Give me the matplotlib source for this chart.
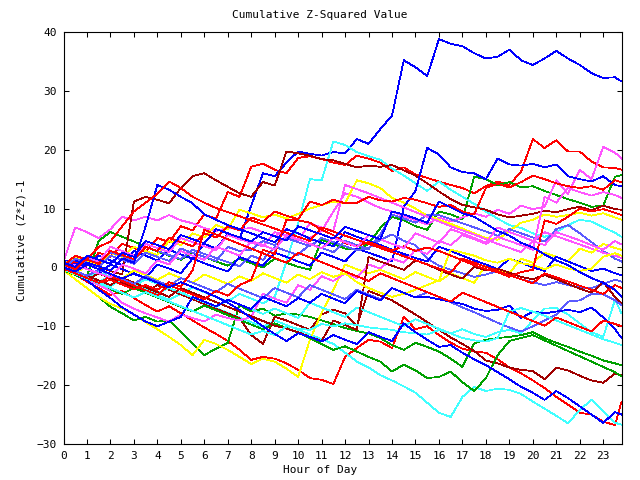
import matplotlib
matplotlib.use("Agg")
import matplotlib.pyplot as plt

# sample times (hour of day), half-hour steps, last sample just before midnight
hours = [0.0, 0.5, 1.0, 1.5, 2.0, 2.5, 3.0, 3.5, 4.0, 4.5, 5.0, 5.5, 6.0, 6.5,
         7.0, 7.5, 8.0, 8.5, 9.0, 9.5, 10.0, 10.5, 11.0, 11.5, 12.0, 12.5,
         13.0, 13.5, 14.0, 14.5, 15.0, 15.5, 16.0, 16.5, 17.0, 17.5, 18.0,
         18.5, 19.0, 19.5, 20.0, 20.5, 21.0, 21.5, 22.0, 22.5, 23.0, 23.5, 23.78]

# cumulative (z*z)-1, one list per station
blue_top = [1.0, 1.2, 0.5, 2.0, 1.2, 0.4, 2.8, 2.0, 1.2, 3.0, 2.2, 1.5, 4.0, 3.2, 5.6, 4.8,
            10.5, 16.0, 15.5, 17.8, 19.7, 19.3, 19.0, 19.6, 19.4, 21.8, 21.0, 23.5, 25.8,
            35.2, 34.0, 32.5, 38.8, 38.0, 37.6, 36.4, 35.5, 35.8, 37.0, 35.2, 34.4, 35.5,
            36.8, 35.5, 34.4, 33.0, 32.2, 32.3, 31.6]
blue_early = [0, -0.5, 0.8, 0.2, -0.5, 1.5, 0.8, 7.0, 14.0, 13.2, 12.0, 10.9, 9.0, 8.1,
              7.2, 6.5, 5.8, 5.0, 4.3, 6.5, 5.8, 4.9, 4.2, 3.6, 6.0, 5.2, 4.5, 3.8, 3.0,
              2.3, 1.6, 1.0, 3.5, 2.8, 2.0, 1.2, 0.5, -0.3, 1.5, 0.8, 0.0, -0.6, 1.8, 1.0,
              0.2, -0.6, -0.2, -1.0, -1.3]
blue_jump = [0, 0.6, -0.2, -1.0, 0.5, -0.3, -1.1, -1.8, 0.5, -0.2, -1.0, 1.5, 0.7, 0.0,
             -0.7, 1.8, 1.0, 0.3, 2.5, 1.8, 1.0, 0.3, 2.5, 1.8, 1.0, 3.2, 2.5, 1.8, 1.0,
             10.3, 13.0, 20.3, 19.2, 17.0, 16.2, 16.0, 15.0, 18.5, 17.5, 17.3, 17.6, 17.0,
             17.5, 15.5, 15.0, 14.6, 15.5, 14.0, 13.8]
blue_dip = [0.0, -1.0, -2.2, -3.8, -5.2, -6.8, -8.0, -9.2, -10.0, -9.2, -8.4, -5.0, -5.8,
            -6.6, -5.5, -6.3, -7.1, -5.0, -5.8, -6.6, -5.2, -6.0, -4.5, -5.3, -6.1, -4.0,
            -4.8, -5.6, -3.5, -4.3, -5.1, -5.0, -5.4, -5.8, -6.2, -7.0, -7.4, -7.2, -6.5,
            -8.6, -7.5, -7.8, -7.5, -7.2, -7.6, -6.8, -8.5, -10.5, -12.0]
blue_mid = [0.8, 0.1, 2.0, 1.3, 0.6, 2.5, 1.8, 4.5, 3.8, 3.1, 5.5, 4.8, 4.1, 6.5, 5.8, 5.1,
            4.4, 6.0, 5.3, 4.6, 7.0, 6.3, 5.6, 4.9, 6.9, 6.2, 5.5, 4.8, 9.5, 9.0, 8.3, 7.6,
            11.2, 10.2, 9.2, 8.6, 7.4, 6.2, 5.4, 4.2, 3.4, 2.2, 1.2, 0.4, -0.8, -1.8, -2.6,
            -3.8, -5.0]
blue_low = [0, -0.7, 0.5, -0.3, -1.1, -1.9, -1.0, -1.8, -2.6, -3.4, -2.5, -3.3, -4.1, -5.0,
            -6.0, -7.2, -8.6, -10.0, -11.3, -12.5, -11.2, -11.8, -12.6, -11.5, -12.3, -13.0,
            -11.0, -11.8, -12.5, -9.5, -11.0, -12.3, -13.5, -13.2, -14.5, -15.6, -16.6,
            -17.8, -19.0, -20.3, -21.3, -22.5, -21.0, -22.2, -23.6, -25.0, -26.4, -24.6, -25.0]

red_peak = [0, 1.0, 0.3, 2.5, 1.8, 4.0, 3.3, 2.6, 5.0, 4.3, 7.0, 6.3, 9.0, 8.3, 12.8, 12.0,
            17.1, 17.6, 16.6, 16.0, 18.6, 18.9, 18.4, 17.8, 17.4, 19.0, 18.5, 17.8, 16.4,
            17.0, 15.8, 15.2, 14.6, 14.0, 13.5, 12.6, 13.8, 14.6, 14.0, 16.3, 21.8, 20.3,
            21.6, 19.7, 19.7, 18.0, 17.0, 16.9, 16.6]
red_low = [0, -1.2, -2.4, -3.5, -4.7, -4.0, -5.2, -6.4, -7.5, -6.6, -7.8, -9.0, -10.2, -11.3,
           -12.5, -14.0, -15.7, -15.2, -15.5, -16.3, -17.4, -18.8, -19.1, -19.8, -15.2, -13.7,
           -12.3, -12.6, -13.7, -8.4, -10.5, -10.0, -11.5, -12.8, -13.8, -14.3, -14.5, -15.6,
           -17.0, -18.0, -19.2, -20.5, -22.0, -23.3, -24.7, -25.0, -26.2, -26.8, -22.8]
red_upper = [0.3, 2.0, 1.3, 0.6, 2.8, 2.1, 1.4, 3.5, 2.8, 5.0, 4.3, 3.6, 5.8, 5.1, 7.0, 6.3,
             8.5, 7.8, 9.5, 8.8, 8.2, 11.2, 10.6, 11.5, 10.9, 11.0, 12.0, 11.4, 11.2, 11.8,
             11.5, 10.9, 10.3, 10.6, 9.5, 9.0, 13.5, 14.2, 13.6, 14.5, 15.6, 15.0, 14.3,
             13.8, 13.5, 13.8, 13.2, 14.8, 14.5]
red_mid = [-0.3, -1.1, -1.9, -2.7, -1.5, -2.3, -3.1, -3.9, -4.7, -3.0, -3.8, -4.6, -5.4,
           -4.0, -4.8, -3.0, -2.1, 3.0, 2.3, 8.1, 8.0, 7.6, 6.4, 5.5, 4.1, 3.6, 4.3, 3.6,
           2.9, 3.6, 2.8, 3.4, 2.8, 2.0, 1.2, 0.4, -0.3, -0.8, -1.6, -0.8, -0.4, 8.0, 7.4,
           8.6, 10.0, 9.5, 9.9, 9.3, 8.9]
red_hump = [0.5, -0.3, 1.5, 3.5, 4.4, 7.0, 9.5, 11.0, 12.5, 14.6, 13.5, 12.0, 11.0, 10.1,
            9.4, 8.7, 8.0, 7.3, 6.6, 5.9, 5.2, 4.5, 6.8, 6.1, 5.4, 4.7, 4.0, 3.3, 2.6, 1.9,
            1.2, 0.5, -0.2, -0.9, 1.5, 0.8, 0.1, -0.6, -1.3, -2.0, -2.7, -1.0, -1.7, -2.4,
            -3.1, -3.8, -4.5, -3.0, -3.5]
red_drift = [-0.2, -1.0, -1.8, -2.6, -2.1, -2.9, -3.7, -3.0, -3.8, -2.5, -3.3, -0.5, 6.4,
             5.6, 4.8, 4.0, 3.2, 2.4, 1.6, 0.8, 2.5, 1.7, 0.9, 0.1, -0.7, -1.5, -2.3, -1.0,
             -1.8, -2.6, -3.4, -4.2, -5.0, -5.8, -4.3, -5.1, -5.9, -6.7, -7.5, -8.3, -9.1,
             -9.9, -8.5, -9.3, -10.1, -10.9, -9.0, -9.6, -10.0]

dred_high = [0, -0.4, 0.8, 0.1, -0.6, -1.2, 11.2, 12.0, 11.5, 10.9, 13.5, 15.5, 16.0, 14.8,
             13.7, 12.6, 12.0, 14.5, 13.9, 19.7, 19.4, 19.0, 18.4, 18.2, 17.6, 17.0, 17.3,
             17.1, 17.4, 16.5, 15.6, 14.3, 12.9, 11.6, 10.6, 10.2, 9.8, 9.0, 8.5, 8.8, 9.1,
             9.6, 9.4, 9.9, 10.3, 9.7, 10.5, 9.9, 9.8]
dred_low = [-0.5, -1.3, -2.1, -1.0, -1.8, -2.6, -3.4, -4.2, -3.0, -3.8, -4.6, -5.4, -6.2,
            -7.0, -7.8, -8.6, -11.5, -13.0, -8.4, -9.0, -9.8, -10.6, -8.0, -7.2, -7.8, -10.0,
            -4.0, -4.8, -5.6, -6.8, -8.0, -9.3, -10.6, -11.9, -13.0, -14.2, -15.8, -16.3,
            -17.0, -17.4, -17.6, -19.0, -17.0, -17.5, -18.4, -19.2, -19.6, -18.0, -18.3]
dred_mid = [0.2, -0.6, -1.4, -2.2, -3.0, -1.8, -2.6, -3.4, -4.2, -5.0, -3.5, -4.3, -5.1,
            -5.9, -6.7, -7.5, -8.3, -9.1, -9.9, -10.4, -11.0, -11.8, -12.5, -9.0, -9.8,
            -10.6, 1.8, 1.0, 0.3, -0.4, 1.2, 0.5, -0.4, -1.2, -1.9, 0.1, -0.5, -0.2, -0.9,
            -1.6, -2.0, -1.3, -2.0, -2.8, -3.6, -4.3, -2.5, -5.0, -6.1]

green_low = [-0.5, -2.0, -3.5, -5.0, -6.7, -7.8, -9.0, -8.4, -9.2, -9.0, -11.0, -13.0,
             -14.9, -13.8, -12.8, -6.4, -7.5, -7.0, -8.2, -7.8, -8.0, -8.4, -9.0, -9.6,
             -10.3, -10.8, -11.2, -12.0, -13.2, -14.0, -12.8, -13.5, -14.3, -15.5, -16.9,
             -12.9, -12.3, -12.0, -11.8, -11.5, -11.0, -12.0, -12.8, -13.5, -14.3, -15.0,
             -15.8, -16.3, -16.6]
green_up = [0.0, -0.8, -1.5, 4.5, 6.0, 5.2, 4.4, 3.5, 2.7, 2.0, 1.3, 2.5, 1.8, 1.0, 0.3,
            1.5, 0.7, 0.0, 1.5, 0.8, 0.1, -0.4, 4.7, 4.0, 3.2, 3.0, 4.0, 6.7, 8.6, 8.0, 7.0,
            6.4, 9.5, 9.0, 8.2, 15.4, 15.0, 14.0, 14.5, 13.6, 13.8, 13.0, 12.3, 11.6, 11.0,
            10.3, 10.5, 15.4, 15.7]
green_down = [-0.5, -1.3, -2.1, -2.9, -3.7, -4.5, -3.5, -4.3, -5.1, -5.9, -6.7, -7.5, -6.5,
              -7.3, -8.1, -8.9, -9.7, -10.5, -9.5, -10.3, -11.1, -12.0, -13.0, -14.0, -13.4,
              -14.3, -15.2, -16.0, -17.7, -16.5, -17.5, -18.8, -18.6, -17.7, -19.5, -21.0,
              -18.8, -14.9, -12.5, -12.0, -11.5, -12.4, -13.3, -14.2, -15.1, -16.0, -16.9,
              -17.8, -18.5]

cyan_top = [-0.2, -1.0, -1.8, -0.8, -1.6, -2.4, -3.2, -2.0, -2.8, -3.6, -4.4, -3.4, -4.2,
            -5.0, -5.8, -4.5, -5.3, -6.1, -5.0, 1.0, 7.5, 15.0, 14.8, 21.4, 20.8, 19.6, 18.9,
            18.3, 16.8, 15.6, 14.3, 13.0, 14.6, 13.2, 12.0, 10.8, 9.5, 8.3, 7.2, 6.7, 5.8,
            5.2, 6.0, 7.2, 8.1, 7.8, 6.8, 5.9, 5.2]
cyan_low = [0, -0.8, -1.6, -2.4, -1.5, -2.3, -3.1, -3.9, -4.7, -5.5, -4.5, -5.3, -6.1, -6.9,
            -7.7, -8.5, -9.3, -10.1, -9.0, -9.8, -10.6, -11.4, -12.2, -13.0, -14.5, -16.0,
            -17.0, -18.3, -19.2, -20.2, -21.3, -23.0, -24.7, -25.4, -22.0, -20.3, -21.0,
            -20.6, -20.8, -21.5, -22.8, -24.0, -25.2, -26.5, -24.2, -22.5, -24.5, -26.4, -26.7]
cyan_mid = [0.0, -0.8, -1.6, -2.4, -3.2, -2.0, -2.8, -3.6, -4.4, -3.5, -4.3, -5.1, -5.9,
            -6.7, -5.5, -6.3, -7.1, -7.9, -7.0, -7.8, -8.6, -6.0, -6.8, -7.6, -8.4, -6.8,
            -7.6, -8.4, -9.2, -10.0, -8.8, -9.6, -10.4, -11.2, -10.5, -11.3, -11.8, -11.0,
            -10.6, -11.2, -9.0, -7.0, -6.9, -8.0, -9.5, -11.0, -11.8, -5.5, -7.8]
cyan_flat = [-0.3, -1.1, -1.9, -2.7, -3.5, -4.3, -5.1, -4.2, -5.0, -5.8, -6.6, -7.4, -8.2,
             -9.0, -9.8, -10.6, -11.4, -10.8, -11.5, -10.0, -10.4, -10.6, -9.6, -10.0, -9.5,
             -9.8, -10.2, -10.4, -10.6, -11.0, -11.2, -11.4, -10.6, -11.2, -12.0, -12.4,
             -12.6, -12.0, -7.5, -6.9, -7.5, -8.2, -9.0, -9.8, -10.6, -11.4, -12.2, -12.8, -13.2]

mag_top = [1.0, 6.8, 6.0, 5.0, 6.5, 8.6, 8.0, 8.6, 8.0, 8.9, 8.0, 7.5, 6.7, 6.2, 6.7, 6.5,
           6.7, 6.0, 5.3, 6.5, 5.8, 5.0, 6.2, 9.5, 12.6, 12.0, 11.0, 10.1, 9.5, 8.7, 8.0,
           7.3, 8.5, 7.8, 8.5, 9.2, 8.6, 9.8, 9.1, 10.5, 9.9, 10.3, 14.8, 12.5, 16.6, 15.0,
           20.5, 19.5, 18.5]
mag_mid = [0.5, -0.3, 1.8, 1.0, 3.5, 2.8, 2.0, 4.0, 3.3, 2.6, 5.0, 4.3, 3.6, 2.9, 5.5, 4.8,
           4.2, 3.6, 6.0, 5.3, 4.6, 7.5, 6.8, 6.2, 14.0, 13.3, 12.6, 11.8, 11.0, 10.2, 9.4,
           8.6, 7.8, 7.0, 6.3, 5.6, 4.8, 4.0, 3.3, 2.6, 4.5, 6.0, 5.3, 4.6, 3.9, 3.2, 2.5,
           2.0, 1.6]
mag_low = [0.0, -1.0, -2.0, -3.0, -4.0, -6.0, -7.0, -7.8, -8.5, -9.2, -8.0, -8.6, -9.2,
           -8.0, -8.6, -9.0, -8.4, -4.5, -5.3, -6.0, -3.0, -3.8, -1.5, -2.3, -1.0, -1.8, 0.5,
           -0.2, 1.5, 0.8, 3.0, 2.3, 4.5, 3.8, 5.5, 4.8, 4.0, 5.2, 4.5, 3.8, 3.0, 12.0, 11.0,
           13.5, 12.8, 12.2, 12.8, 12.3, 11.8]
mag_wave = [-0.5, 0.5, -0.3, -1.0, -1.7, 0.5, -0.2, -1.0, 1.2, 0.5, 2.8, 2.0, 1.3, 3.5, 2.8,
            2.0, 4.5, 3.8, 3.0, 5.5, 4.8, 4.0, 3.2, 5.0, 4.3, 3.5, 5.5, 4.8, 4.0, 3.3, 5.8,
            5.0, 4.2, 6.5, 5.8, 5.0, 4.2, 6.8, 6.0, 5.3, 4.5, 3.8, 6.0, 5.3, 4.6, 3.8, 3.0,
            4.5, 3.9]

yel_low = [-0.5, -2.0, -3.5, -5.0, -6.2, -7.0, -8.0, -9.3, -10.5, -11.8, -13.2, -14.9, -12.3,
           -13.0, -14.0, -15.2, -16.4, -15.5, -16.0, -17.2, -18.6, -12.3, -7.7, -3.8, 0.5,
           -0.3, -1.0, -0.4, -1.2, -2.0, -0.8, -1.6, -2.4, -1.0, -1.8, -2.6, 0.5, -0.3, -1.0,
           1.5, 0.8, 2.5, 1.8, 1.0, 3.2, 2.5, 4.0, 3.3, 3.0]
yel_high = [0.5, 1.8, 1.1, 0.4, 2.5, 1.8, 3.5, 2.8, 2.1, 4.5, 3.8, 5.8, 5.1, 7.2, 6.5, 9.8,
            9.2, 8.5, 9.0, 8.3, 9.1, 10.0, 10.6, 11.2, 10.9, 14.8, 14.3, 13.5, 11.8, 11.0,
            10.0, 8.8, 8.1, 7.4, 6.6, 5.8, 5.0, 4.7, 6.2, 7.6, 8.1, 9.0, 8.6, 8.9, 9.3, 8.8,
            9.2, 8.5, 8.1]
yel_mid = [-0.4, -1.2, 0.5, -0.3, -1.1, -1.9, -0.5, -1.3, -2.1, -1.0, -1.8, -2.6, -1.2,
           -2.0, -2.8, -1.5, -2.3, -1.0, -1.8, -2.6, -1.2, -2.0, -0.8, -1.6, -1.0, -2.5,
           -3.5, -4.3, -5.0, -4.5, -3.8, -3.0, -2.2, 3.0, 2.5, 2.0, 1.2, 0.8, 1.5, 0.7, 0.4,
           -0.3, 0.5, -0.2, -0.6, -0.2, 1.8, 2.4, 2.0]

slate_up = [0.6, -0.2, 1.5, 0.8, 2.6, 1.9, 1.2, 3.5, 2.8, 2.1, 1.4, 3.0, 2.3, 1.6, 0.9, 0.2,
            2.0, 1.3, 3.5, 2.8, 2.1, 4.0, 3.3, 2.6, 4.5, 3.8, 3.1, 5.6, 9.0, 8.3, 7.6, 8.9,
            8.9, 8.2, 7.5, 6.8, 6.1, 5.4, 6.5, 5.8, 5.1, 4.4, 6.5, 7.2, 5.8, 4.3, 2.8, 1.5, 1.0]
slate_mid = [-0.2, 1.5, 0.8, 0.1, 2.0, 1.3, 0.6, 2.5, 1.8, 1.1, 3.2, 2.5, 1.8, 1.1, 3.5, 2.8,
             3.0, 4.5, 3.8, 5.0, 4.3, 3.6, 5.0, 4.3, 3.6, 2.9, 3.3, 4.7, 5.6, 4.5, 3.8, 1.5,
             0.3, -0.4, -1.0, -1.6, -1.2, -0.6, -1.3, -2.0, -2.5, -3.0, -2.5, -3.0, -3.4,
             -3.5, -2.8, -2.1, -2.4]
slate_low = [0.2, -0.6, -1.4, -0.4, -1.2, -2.0, -2.8, -1.5, -2.3, -3.1, -1.8, -2.6, -3.4,
             -4.2, -2.8, -3.6, -4.4, -5.2, -3.5, -4.3, -5.1, -3.0, -3.8, -4.6, -5.4, -3.8,
             -4.6, -5.4, -3.5, -4.3, -5.1, -4.2, -5.0, -5.9, -6.8, -7.6, -8.5, -9.4, -10.2,
             -10.9, -10.0, -9.0, -8.0, -5.8, -5.6, -4.5, -4.6, -5.6, -6.4]

RED, GREEN, BLUE = "#ff0000", "#00a000", "#0000ff"
MAGENTA, CYAN, DARKRED = "#ff55ff", "#40ffff", "#a00000"
YELLOW, SLATE = "#ffff00", "#5a5aff"

series = [
    (red_peak, RED), (green_up, GREEN), (blue_top, BLUE), (mag_top, MAGENTA),
    (cyan_top, CYAN), (dred_high, DARKRED), (yel_high, YELLOW), (slate_up, SLATE),
    (red_low, RED), (green_low, GREEN), (blue_jump, BLUE), (mag_mid, MAGENTA),
    (cyan_low, CYAN), (dred_low, DARKRED), (yel_low, YELLOW), (slate_mid, SLATE),
    (red_upper, RED), (green_down, GREEN), (blue_early, BLUE), (mag_low, MAGENTA),
    (cyan_mid, CYAN), (dred_mid, DARKRED), (yel_mid, YELLOW), (slate_low, SLATE),
    (red_mid, RED), (blue_dip, BLUE), (mag_wave, MAGENTA), (cyan_flat, CYAN),
    (red_hump, RED), (blue_mid, BLUE), (red_drift, RED), (blue_low, BLUE),
]

plt.rcParams["font.family"] = "DejaVu Sans Mono"

fig = plt.figure(figsize=(6.4, 4.8), dpi=100)
ax = fig.add_axes([63.5 / 640, 1 - 444 / 480, (622 - 63.5) / 640, (444 - 32) / 480])

for vals, col in series:
    assert len(vals) == len(hours)
    ax.plot(hours, vals, color=col, lw=0.55, antialiased=False)

ax.set_xlim(0, 23.8)
ax.set_ylim(-30, 40)
ax.set_xticks(range(24))
ax.set_yticks(range(-30, 41, 10))
ax.tick_params(direction="in", top=True, right=True, length=3.5, width=0.75,
               labelsize=8, pad=5)
for s in ax.spines.values():
    s.set_linewidth(0.8)

fig.text(0.5, 1 - 15 / 480, "Cumulative Z-Squared Value", ha="center", va="center", fontsize=8)
fig.text(0.5, 1 - 470 / 480, "Hour of Day", ha="center", va="center", fontsize=8)
fig.text(22 / 640, 0.5, "Cumulative (Z*Z)-1", ha="center", va="center",
         rotation=90, fontsize=8)

fig.savefig("out.png", dpi=100)
